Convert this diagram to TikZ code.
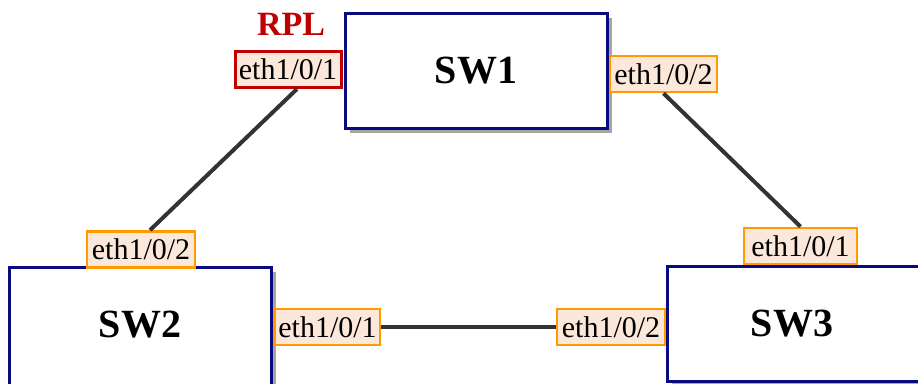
\documentclass[tikz,border=0pt]{standalone}
\usepackage{fontspec}
\setmainfont{Liberation Serif}
\usetikzlibrary{shadows}
\definecolor{navyb}{HTML}{0A0A80}
\definecolor{portfill}{HTML}{FCE8DA}
\definecolor{portor}{HTML}{FF9A00}
\definecolor{rplred}{HTML}{C00000}
\definecolor{linkc}{HTML}{333333}
\tikzset{
  swbox/.style={draw=navyb, line width=3pt, fill=white, rectangle, inner sep=0pt,
    font=\fontsize{40}{42}\selectfont\bfseries,
    drop shadow={shadow xshift=5pt, shadow yshift=-5pt, fill=black!50, opacity=0.7}},
  swtext/.style={font=\fontsize{40}{42}\selectfont\bfseries},
  port/.style={draw=portor, line width=2.7pt, fill=portfill, rectangle, inner sep=0pt,
    font=\fontsize{30}{31}\selectfont, minimum height=36pt},
  rplport/.style={port, draw=rplred, line width=3pt},
  link/.style={draw=linkc, line width=4pt},
}
\begin{document}
\begin{tikzpicture}[x=1pt,y=-1pt]
\useasboundingbox (0,0) rectangle (918,383);
% switches
\node[swbox, minimum width=262pt, minimum height=115pt] (sw1) at (476,70.5) {SW1};
\node[swbox, minimum width=262pt, minimum height=120pt] (sw2) at (140,327) {};
\node[swtext] (sw2t) at (140,325) {SW2};
\node[swbox, minimum width=262pt, minimum height=115pt] (sw3) at (798,323.5) {};
\node[swtext] (sw3t) at (792,323.5) {SW3};
% ports
\node[rplport, minimum width=106pt] (p11) at (288,69.5) {eth1/0/1};
\node[port, minimum width=107pt] (p12) at (663.5,74) {eth1/0/2};
\node[port, minimum width=108pt] (p22) at (141,249.5) {eth1/0/2};
\node[port, minimum width=105pt] (p21) at (327.5,327) {eth1/0/1};
\node[port, minimum width=113pt] (p31) at (800.5,246) {eth1/0/1};
\node[port, minimum width=108pt] (p32) at (611,327) {eth1/0/2};
% RPL label
\node[text=rplred, font=\fontsize{34}{35}\selectfont\bfseries, anchor=south] (rpl) at (291,39) {RPL};
% links
\draw[link] ([xshift=9pt]p11.south) -- ([xshift=9pt]p22.north);
\draw[link] (p12.south) -- (p31.north);
\draw[link] (p21.east) -- (p32.west);
\end{tikzpicture}
\end{document}
